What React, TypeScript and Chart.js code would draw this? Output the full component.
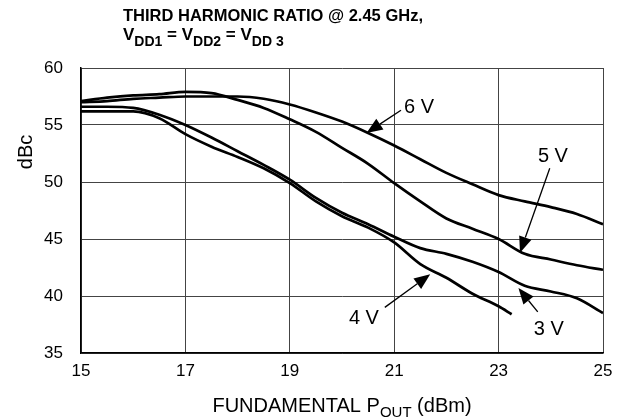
import React, { useEffect, useRef } from "react";
import { Chart, registerables } from "chart.js";

Chart.register(...registerables);

const xCommon = [15, 15.5, 16, 16.5, 17, 17.5, 18, 18.5, 19, 19.5, 20, 20.5, 21, 21.5, 22, 22.5, 23, 23.5, 24, 24.5, 25];
const x4V = [15, 15.5, 16, 16.5, 17, 17.5, 18, 18.5, 19, 19.5, 20, 20.5, 21, 21.5, 22, 22.5, 23, 23.25];

const y6V = [57.0, 57.1, 57.3, 57.4, 57.5, 57.5, 57.5, 57.3, 56.8, 56.1, 55.3, 54.3, 53.2, 52.0, 50.8, 49.8, 48.85, 48.3, 47.8, 47.2, 46.3];
const y5V = [57.1, 57.4, 57.6, 57.7, 57.9, 57.8, 57.2, 56.5, 55.5, 54.4, 53.0, 51.6, 49.9, 48.3, 46.8, 45.9, 45.0, 43.7, 43.2, 42.7, 42.3];
const y3V = [56.6, 56.6, 56.5, 55.9, 55.0, 53.9, 52.7, 51.5, 50.2, 48.6, 47.3, 46.3, 45.2, 44.2, 43.7, 43.0, 42.1, 40.9, 40.4, 39.8, 38.5];
const y4V = [56.2, 56.2, 56.2, 55.6, 54.2, 53.1, 52.2, 51.2, 49.9, 48.3, 47.0, 46.0, 44.7, 42.8, 41.6, 40.2, 39.1, 38.4];

const xTicks = [15, 17, 19, 21, 23, 25];
const yTicks = [35, 40, 45, 50, 55, 60];

// annotation labels: text position, line start, arrow tip (data coords)
const annLabels = ["6 V", "5 V", "4 V", "3 V"];
const annText = [[21.19, 56.5, "left"], [24.04, 52.2, "center"], [20.42, 38.0, "center"], [23.96, 37.1, "center"]];
const annFrom = [[21.13, 56.3], [23.98, 51.2], [20.82, 39.0], [23.75, 38.6]];
const annTip = [[20.47, 54.3], [23.41, 43.8], [21.69, 41.9], [23.38, 40.7]];

const FONT = "'Liberation Sans', Arial, sans-serif";

const toPts = (xs: number[], ys: number[]) => xs.map((x, i) => ({ x, y: ys[i] }));

const decorPlugin = {
  id: "decor",
  afterDraw(chart: any) {
    const ctx = chart.ctx as CanvasRenderingContext2D;
    const xs = chart.scales.x;
    const ys = chart.scales.y;
    const area = chart.chartArea;
    ctx.save();
    ctx.fillStyle = "#000";
    ctx.strokeStyle = "#000";
    // title line 1
    ctx.textBaseline = "alphabetic";
    ctx.textAlign = "left";
    ctx.font = `bold 16.5px ${FONT}`;
    ctx.fillText("THIRD HARMONIC RATIO @ 2.45 GHz,", 123, 21);
    // title line 2 with subscripts
    let cx = 123;
    const parts: [string, boolean][] = [["V", false], ["DD1", true], [" = V", false], ["DD2", true], [" = V", false], ["DD 3", true]];
    for (const [t, sub] of parts) {
      ctx.font = sub ? `bold 14px ${FONT}` : `bold 17px ${FONT}`;
      ctx.fillText(t, cx, sub ? 46 : 40);
      cx += ctx.measureText(t).width;
    }
    // x axis title
    const xt: [string, boolean][] = [["FUNDAMENTAL P", false], ["OUT", true], [" (dBm)", false]];
    let total = 0;
    for (const [t, sub] of xt) {
      ctx.font = sub ? `15px ${FONT}` : `20px ${FONT}`;
      total += ctx.measureText(t).width;
    }
    cx = (area.left + area.right) / 2 - total / 2;
    for (const [t, sub] of xt) {
      ctx.font = sub ? `15px ${FONT}` : `20px ${FONT}`;
      ctx.fillText(t, cx, sub ? 417 : 412);
      cx += ctx.measureText(t).width;
    }
    // y axis title
    ctx.save();
    ctx.translate(32, 152);
    ctx.rotate(-Math.PI / 2);
    ctx.textAlign = "center";
    ctx.font = `20px ${FONT}`;
    ctx.fillText("dBc", 0, 0);
    ctx.restore();
    // annotations
    for (let i = 0; i < annLabels.length; i++) {
      const [tx, ty, al] = annText[i] as [number, number, CanvasTextAlign];
      ctx.font = `20px ${FONT}`;
      ctx.textAlign = al;
      ctx.textBaseline = "middle";
      ctx.fillText(annLabels[i], xs.getPixelForValue(tx), ys.getPixelForValue(ty));
      const x0 = xs.getPixelForValue(annFrom[i][0]);
      const y0 = ys.getPixelForValue(annFrom[i][1]);
      const x1 = xs.getPixelForValue(annTip[i][0]);
      const y1 = ys.getPixelForValue(annTip[i][1]);
      const ang = Math.atan2(y1 - y0, x1 - x0);
      const L = 16, W = 6.5;
      const bx = x1 - L * Math.cos(ang);
      const by = y1 - L * Math.sin(ang);
      ctx.lineWidth = 1.3;
      ctx.beginPath();
      ctx.moveTo(x0, y0);
      ctx.lineTo(bx, by);
      ctx.stroke();
      ctx.beginPath();
      ctx.moveTo(x1, y1);
      ctx.lineTo(bx + W * Math.sin(ang), by - W * Math.cos(ang));
      ctx.lineTo(bx - W * Math.sin(ang), by + W * Math.cos(ang));
      ctx.closePath();
      ctx.fill();
    }
    ctx.restore();
  },
};

export default function App() {
  const ref = useRef<HTMLCanvasElement | null>(null);
  useEffect(() => {
    if (!ref.current) return;
    const ds = (label: string, data: any[]) => ({
      label,
      data,
      borderColor: "#000",
      borderWidth: 2.7,
      pointRadius: 0,
      fill: false,
      cubicInterpolationMode: "monotone" as const,
    });
    const chart = new Chart(ref.current, {
      type: "line",
      data: {
        datasets: [
          ds("6 V", toPts(xCommon, y6V)),
          ds("5 V", toPts(xCommon, y5V)),
          ds("4 V", toPts(x4V, y4V)),
          ds("3 V", toPts(xCommon, y3V)),
        ],
      },
      options: {
        animation: false,
        responsive: false,
        maintainAspectRatio: false,
        layout: { padding: { top: 68, right: 31, left: 0, bottom: 0 } },
        plugins: { legend: { display: false }, tooltip: { enabled: false }, title: { display: false } },
        scales: {
          x: {
            type: "linear",
            min: 15,
            max: 25,
            afterFit: (s: any) => { s.height = 66; },
            afterBuildTicks: (s: any) => { s.ticks = xTicks.map((v) => ({ value: v })); },
            ticks: { color: "#000", font: { family: FONT, size: 17 }, padding: 8, maxRotation: 0 },
            grid: { color: "#444", lineWidth: 1, drawTicks: false },
            border: { color: "#000", width: 1.5 },
          },
          y: {
            type: "linear",
            min: 35,
            max: 60,
            afterFit: (s: any) => { s.width = 81; },
            afterBuildTicks: (s: any) => { s.ticks = yTicks.map((v) => ({ value: v })); },
            ticks: { color: "#000", font: { family: FONT, size: 17 }, padding: 18 },
            grid: { color: "#444", lineWidth: 1, drawTicks: false },
            border: { color: "#000", width: 1.5 },
          },
        },
      },
      plugins: [decorPlugin],
    });
    return () => chart.destroy();
  }, []);
  return (
    <div style={{ position: "fixed", left: 0, top: 0, width: 634, height: 419, background: "#fff" }}>
      <canvas ref={ref} width={634} height={419} style={{ width: 634, height: 419 }} />
    </div>
  );
}
